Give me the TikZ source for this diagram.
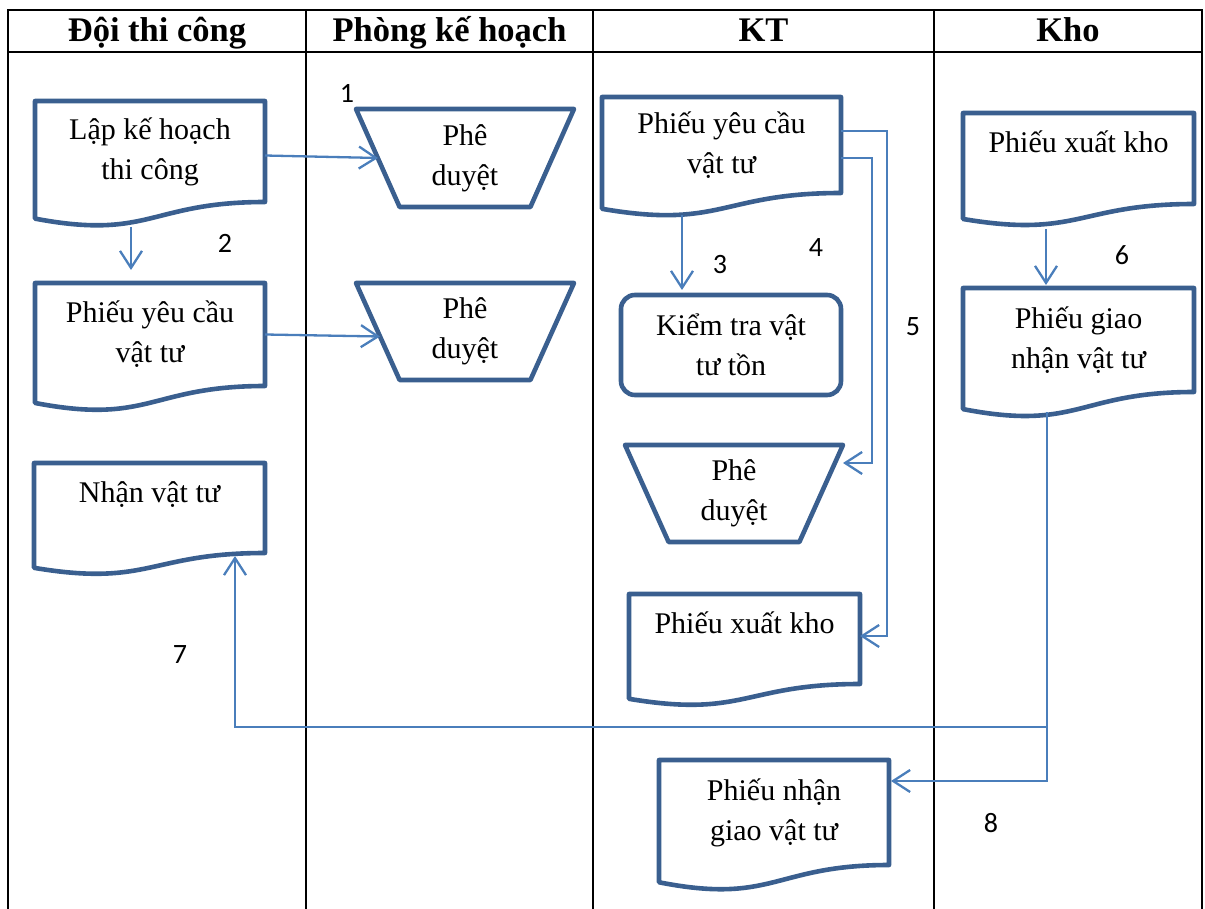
\documentclass[tikz,border=0pt]{standalone}
\usepackage{fontspec}
\setmainfont{Liberation Serif}
\newfontfamily\numfont{Carlito}
\usetikzlibrary{arrows.meta,calc}

\definecolor{shapeblue}{HTML}{3A5F8F}
\definecolor{linkblue}{HTML}{4A7EBB}

\tikzset{
  lane/.style={line width=2.6pt, draw=black},
  head/.style={font=\fontsize{34.5}{38}\selectfont\bfseries, inner sep=0pt,
    text height=24pt, text depth=6pt},
  box/.style={inner sep=0pt, outer sep=0pt, align=center, font=\fontsize{30}{40}\selectfont},
  shp/.style={draw=shapeblue, line width=4.6pt, line join=round},
  conn/.style={draw=linkblue, line width=2.3pt, -{Straight Barb[length=17pt,width=22pt]}},
  num/.style={font=\numfont\fontsize{28}{32}\selectfont, inner sep=0pt},
  oneline/.style={text height=20pt, text depth=32pt}
}

% a text box spanning left/top/right/bottom (the straight part of its outline)
\newcommand\place[7]{%
  \node[box,#6,minimum width={(#4-#2)*1pt},minimum height={(#5-#3)*1pt}]
    (#1) at ({(#2+#4)/2},{(#3+#5)/2}) {#7};}

% document symbol: flat top, wavy bottom edge below the box
\newcommand\docshape[1]{%
  \draw[shp] let \p1=(#1.north west), \p2=(#1.south east), \n1={\y1-\y2} in
    (\p1) -- (\x2,\y1) -- (\p2)
    .. controls ({(\x1+\x2)/2},\y2) and ({(\x1+\x2)/2},{\y2-0.380*\n1}) ..
    (\x1,{\y2-0.1646*\n1}) -- cycle;}

% manual operation symbol: trapezoid, wide side up
\newcommand\trapshape[1]{%
  \draw[shp] let \p1=(#1.north west), \p2=(#1.south east), \n1={0.2*(\x2-\x1)} in
    (\p1) -- (\x2,\y1) -- ({\x2-\n1},\y2) -- ({\x1+\n1},\y2) -- cycle;}

\begin{document}
\begin{tikzpicture}[x=1pt,y=-1pt]
\useasboundingbox (0,0) rectangle (1205,909);

% swimlane table
\draw[lane] (8,909) -- (8,10) -- (1202,10) -- (1202,909);
\draw[lane] (8,52) -- (1202,52);
\foreach \lx in {306,593,934} \draw[lane] (\lx,10) -- (\lx,909);

\node[head] (h1) at (157,33) {Đội thi công};
\node[head] (h2) at (449.5,33) {Phòng kế hoạch};
\node[head] (h3) at (763.5,33) {KT};
\node[head] (h4) at (1068,33) {Kho};

% Đội thi công
\place{d1}{35}{101}{265}{202}{}{Lập kế hoạch\\thi công}
\place{d2}{35}{283}{265}{386}{}{Phiếu yêu cầu\\vật tư}
\place{d3}{34}{463}{265}{553}{oneline}{Nhận vật tư}

% Phòng kế hoạch
\place{p1}{356}{109}{574}{207}{}{Phê\\duyệt}
\place{p2}{356}{283}{574}{380}{}{Phê\\duyệt}

% KT
\place{k1}{602}{97}{841}{193}{}{Phiếu yêu cầu\\vật tư}
\place{k2}{621}{295}{841}{395}{shp,rounded corners=14pt}{Kiểm tra vật\\tư tồn}
\place{p3}{625}{445}{843}{542}{}{Phê\\duyệt}
\place{k3}{629}{594}{860}{684}{oneline}{Phiếu xuất kho}
\place{k4}{659}{760}{889}{865}{}{Phiếu nhận\\giao vật tư}

% Kho
\place{w1}{963}{113}{1194}{204}{oneline}{Phiếu xuất kho}
\place{w2}{963}{288}{1194}{392}{}{Phiếu giao\\nhận vật tư}

\docshape{d1}\docshape{d2}\docshape{d3}
\docshape{k1}\docshape{k3}\docshape{k4}
\docshape{w1}\docshape{w2}
\trapshape{p1}\trapshape{p2}\trapshape{p3}

% flow
\coordinate (p1-l) at ([xshift=22pt]p1.west);
\coordinate (fork) at (1047,727);

\draw[conn] ([yshift=-4pt]d1.east) -- (p1-l);
\draw[conn] (d2.east) -- ([xshift=24pt,yshift=-5pt]p2.west);
\draw[conn] ([xshift=-19pt,yshift=-25pt]d1.south) -- ([xshift=-19pt,yshift=13pt]d2.north);
\draw[conn] ([xshift=-39.5pt,yshift=-22pt]k1.south) -- ([xshift=-49pt,yshift=5pt]k2.north);
\draw[conn] ([yshift=-13pt]k1.east) -- ++(31pt,0) |- ([yshift=-18pt]p3.north east);
\draw[conn] ([yshift=14pt]k1.east) -- ++(46pt,0) |- ([yshift=3pt]k3.east);
\draw[conn] ([xshift=-32.5pt,yshift=-25pt]w1.south) -- ([xshift=-32.5pt,yshift=3pt]w2.north);
\draw[conn] ([xshift=-31.5pt,yshift=-20pt]w2.south) |- ([xshift=2pt,yshift=31.5pt]k4.east);
\draw[conn] (fork) -| ([xshift=-30pt,yshift=-3pt]d3.south east);

% step numbers
\node[num] (n1) at (347,93) {1};
\node[num] (n2) at (225,243) {2};
\node[num] (n3) at (720,265) {3};
\node[num] (n4) at (816,248) {4};
\node[num] (n5) at (913,327) {5};
\node[num] (n6) at (1122,255) {6};
\node[num] (n7) at (180,655) {7};
\node[num] (n8) at (991,823) {8};
\end{tikzpicture}
\end{document}
